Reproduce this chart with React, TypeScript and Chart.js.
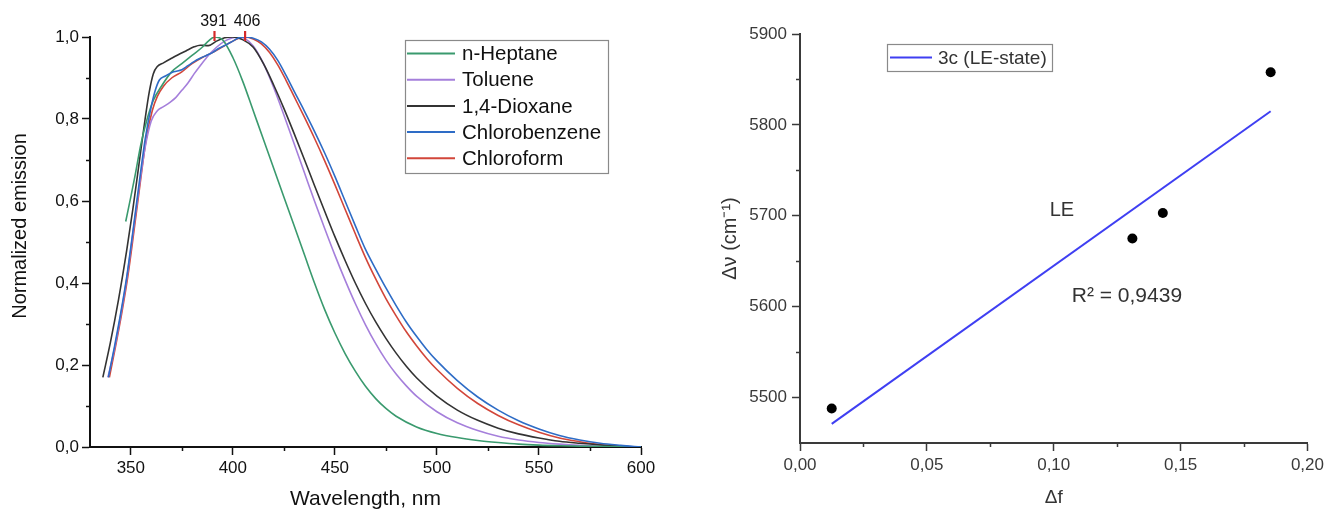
import React, { useEffect, useRef } from "react";
import { Chart, registerables } from "chart.js";

Chart.register(...registerables);

const FONT = "'Liberation Sans', Arial, sans-serif";

// ---------- Left chart: normalized emission spectra ----------
const waveTicks = [350, 400, 450, 500, 550, 600];
const waveMinor = [375, 425, 475, 525, 575];
const emissionTicks = [0, 0.2, 0.4, 0.6, 0.8, 1.0];
const emissionMinor = [0.1, 0.3, 0.5, 0.7, 0.9];

const heptaneNm = [347.5, 350, 352, 355, 358, 361, 365, 370, 375, 380, 385, 388, 391, 395, 400, 405, 410, 415, 420, 425, 430, 435, 440, 445, 450, 455, 460, 465, 470, 475, 480, 490, 500, 510, 520, 530, 540, 550, 560, 575, 600];
const heptaneInt = [0.55, 0.61, 0.66, 0.74, 0.8, 0.845, 0.88, 0.915, 0.935, 0.955, 0.975, 0.99, 1.0, 0.993, 0.95, 0.89, 0.82, 0.75, 0.68, 0.61, 0.54, 0.47, 0.4, 0.335, 0.278, 0.228, 0.185, 0.148, 0.118, 0.094, 0.075, 0.049, 0.033, 0.023, 0.016, 0.011, 0.007, 0.0045, 0.003, 0.0015, 0];

const tolueneNm = [338.8, 342, 345, 348, 351, 354, 357, 360, 363, 366, 369, 372, 375, 378, 381, 384, 388, 392, 396, 400, 403, 406, 410, 415, 420, 425, 430, 435, 440, 445, 450, 455, 460, 465, 470, 475, 480, 485, 490, 500, 510, 520, 530, 540, 550, 560, 570, 580, 590, 600];
const tolueneInt = [0.17, 0.24, 0.32, 0.41, 0.52, 0.63, 0.73, 0.795, 0.82, 0.83, 0.84, 0.852, 0.87, 0.888, 0.91, 0.93, 0.955, 0.975, 0.99, 0.998, 1.0, 0.996, 0.978, 0.935, 0.877, 0.81, 0.74, 0.67, 0.6, 0.533, 0.468, 0.407, 0.35, 0.298, 0.252, 0.212, 0.178, 0.149, 0.124, 0.086, 0.059, 0.04, 0.026, 0.017, 0.011, 0.007, 0.004, 0.002, 0.001, 0];

const dioxaneNm = [336.3, 340, 344, 348, 351, 354, 357, 359, 361, 363, 366, 370, 373, 377, 381, 384, 388, 392, 396, 400, 405, 410, 415, 420, 425, 430, 435, 440, 445, 450, 455, 460, 465, 470, 475, 480, 485, 490, 500, 510, 520, 530, 540, 550, 560, 570, 580, 590, 600];
const dioxaneInt = [0.17, 0.255, 0.36, 0.48, 0.58, 0.69, 0.8, 0.865, 0.91, 0.928, 0.937, 0.948, 0.956, 0.966, 0.976, 0.98, 0.979, 0.99, 0.998, 1.0, 0.993, 0.975, 0.935, 0.883, 0.826, 0.765, 0.702, 0.638, 0.575, 0.513, 0.455, 0.4, 0.35, 0.305, 0.265, 0.229, 0.197, 0.169, 0.124, 0.09, 0.065, 0.046, 0.032, 0.022, 0.014, 0.009, 0.005, 0.002, 0];

const chlorobenzeneNm = [339, 342, 345, 348, 351, 354, 357, 360, 362, 364, 367, 371, 375, 378, 381, 384, 387, 390, 393, 397, 400, 403, 406, 410, 414, 418, 422, 426, 430, 435, 440, 445, 450, 455, 460, 465, 470, 475, 480, 485, 490, 495, 500, 510, 520, 530, 540, 550, 560, 570, 580, 590, 600];
const chlorobenzeneInt = [0.17, 0.245, 0.325, 0.415, 0.525, 0.64, 0.75, 0.83, 0.87, 0.895, 0.905, 0.915, 0.92, 0.93, 0.94, 0.948, 0.955, 0.962, 0.972, 0.982, 0.99, 0.998, 1.0, 0.997, 0.988, 0.97, 0.943, 0.907, 0.868, 0.82, 0.77, 0.717, 0.66, 0.6, 0.54, 0.482, 0.434, 0.388, 0.345, 0.305, 0.27, 0.238, 0.21, 0.162, 0.122, 0.09, 0.064, 0.044, 0.028, 0.017, 0.009, 0.004, 0];

const chloroformNm = [339.5, 342.5, 345.5, 348.5, 351.5, 354.5, 357.5, 360.5, 363, 366, 370, 375, 380, 385, 390, 395, 400, 403, 406, 410, 414, 418, 422, 426, 430, 435, 440, 445, 450, 455, 460, 465, 470, 475, 480, 485, 490, 495, 500, 510, 520, 530, 540, 550, 560, 570, 580, 590, 600];
const chloroformInt = [0.17, 0.245, 0.325, 0.415, 0.525, 0.64, 0.75, 0.82, 0.855, 0.88, 0.9, 0.915, 0.935, 0.95, 0.962, 0.976, 0.99, 0.997, 1.0, 0.995, 0.983, 0.962, 0.932, 0.895, 0.855, 0.805, 0.753, 0.698, 0.64, 0.58, 0.52, 0.462, 0.41, 0.362, 0.32, 0.281, 0.247, 0.216, 0.189, 0.143, 0.106, 0.077, 0.054, 0.036, 0.022, 0.013, 0.006, 0.002, 0];

const solventLabels = ["n-Heptane", "Toluene", "1,4-Dioxane", "Chlorobenzene", "Chloroform"];
const peakNm = [391, 406];
const peakLabels = ["391", "406"];
const leftYTitle = "Normalized emission";

// ---------- Right chart: Lippert-Mataga ----------
const deltaF = [0.0125, 0.131, 0.143, 0.1855];
const deltaNu = [5488, 5675, 5703, 5858];
const fitDeltaF = [0.0125, 0.1855];
const fitDeltaNu = [5471, 5815];
const dfTicks = [0, 0.05, 0.1, 0.15, 0.2];
const dfMinor = [0.025, 0.075, 0.125, 0.175];
const nuTicks = [5500, 5600, 5700, 5800, 5900];
const nuMinor = [5550, 5650, 5750, 5850];
const fitLabel = "3c (LE-state)";
const leText = "LE";
const r2Text = "R\u00B2 = 0,9439";

const toPts = (xs: number[], ys: number[]) => xs.map((x, i) => ({ x, y: ys[i] }));

function minorTicks(xv: number[], yv: number[], color: string, len: number) {
  return {
    id: "minorTicks",
    afterDraw(chart: any) {
      const { ctx, scales } = chart;
      const xs = scales.x, ys = scales.y;
      ctx.save();
      ctx.strokeStyle = color;
      ctx.lineWidth = 1.5;
      xv.forEach((v) => {
        const px = Math.round(xs.getPixelForValue(v)) + 0.5;
        ctx.beginPath();
        ctx.moveTo(px, xs.top);
        ctx.lineTo(px, xs.top + len);
        ctx.stroke();
      });
      yv.forEach((v) => {
        const py = Math.round(ys.getPixelForValue(v)) + 0.5;
        ctx.beginPath();
        ctx.moveTo(ys.right, py);
        ctx.lineTo(ys.right - len, py);
        ctx.stroke();
      });
      ctx.restore();
    },
  };
}

function boxLegend(o: {
  box: [number, number, number, number];
  firstRow: number;
  rowStep: number;
  lineX0: number;
  lineX1: number;
  textX: number;
  fontSize: number;
  indices: number[];
  textColor: string;
}) {
  return {
    id: "boxLegend",
    afterDraw(chart: any) {
      const ctx = chart.ctx;
      ctx.save();
      const [bx, by, bw, bh] = o.box;
      ctx.strokeStyle = "#8a8a8a";
      ctx.lineWidth = 1.2;
      ctx.strokeRect(bx + 0.5, by + 0.5, bw, bh);
      ctx.font = `${o.fontSize}px ${FONT}`;
      ctx.textBaseline = "middle";
      ctx.textAlign = "left";
      o.indices.forEach((di, i) => {
        const ds = chart.data.datasets[di];
        const y = o.firstRow + i * o.rowStep;
        ctx.strokeStyle = ds.borderColor;
        ctx.lineWidth = 2;
        ctx.beginPath();
        ctx.moveTo(o.lineX0, y);
        ctx.lineTo(o.lineX1, y);
        ctx.stroke();
        ctx.fillStyle = o.textColor;
        ctx.fillText(ds.label, o.textX, y + 1);
      });
      ctx.restore();
    },
  };
}

const peakPlugin = {
  id: "peaks",
  afterDraw(chart: any) {
    const { ctx, chartArea, scales } = chart;
    ctx.save();
    ctx.font = `16px ${FONT}`;
    ctx.textAlign = "center";
    ctx.textBaseline = "middle";
    peakNm.forEach((nm, i) => {
      const px = scales.x.getPixelForValue(nm);
      ctx.fillStyle = "#111";
      ctx.fillText(peakLabels[i], px + (i === 1 ? 2 : -1), chartArea.top - 15);
      ctx.strokeStyle = "#d42a2a";
      ctx.lineWidth = 2.2;
      ctx.beginPath();
      ctx.moveTo(px, chartArea.top - 6);
      ctx.lineTo(px, chartArea.top + 4);
      ctx.stroke();
    });
    // y-axis title, rotated
    ctx.save();
    ctx.translate(20, (chartArea.top + chartArea.bottom) / 2 - 16);
    ctx.rotate(-Math.PI / 2);
    ctx.font = `20px ${FONT}`;
    ctx.fillStyle = "#111";
    ctx.fillText(leftYTitle, 0, 0);
    ctx.restore();
    ctx.restore();
  },
};

const rightTextPlugin = {
  id: "rightText",
  afterDraw(chart: any) {
    const { ctx, scales } = chart;
    ctx.save();
    ctx.font = `20px ${FONT}`;
    ctx.textAlign = "left";
    ctx.textBaseline = "middle";
    ctx.fillStyle = "#333";
    ctx.fillText(leText, scales.x.getPixelForValue(0.0984), scales.y.getPixelForValue(5706));
    ctx.font = `21px ${FONT}`;
    ctx.fillText(r2Text, scales.x.getPixelForValue(0.1071), scales.y.getPixelForValue(5611));
    ctx.restore();
  },
};

function axisCommon(color: string, size: number, pad: number) {
  return {
    grid: { drawOnChartArea: false, drawTicks: true, tickLength: 8, tickColor: color, tickWidth: 1.5 },
    border: { display: true, color, width: 2 },
    ticksBase: { color, font: { family: FONT, size }, padding: pad, maxRotation: 0, autoSkip: false },
  };
}

export default function App() {
  const leftRef = useRef<HTMLCanvasElement>(null);
  const rightRef = useRef<HTMLCanvasElement>(null);

  useEffect(() => {
    const lc = axisCommon("#111", 17, 3);
    const colors = ["#3a9a6e", "#a57fdb", "#333333", "#2e6cc6", "#d2463a"];
    const series = [
      toPts(heptaneNm, heptaneInt),
      toPts(tolueneNm, tolueneInt),
      toPts(dioxaneNm, dioxaneInt),
      toPts(chlorobenzeneNm, chlorobenzeneInt),
      toPts(chloroformNm, chloroformInt),
    ];
    const drawOrder = [1, 3, 2, 0, 4];
    const left = new Chart(leftRef.current!, {
      type: "line",
      data: {
        datasets: series.map((d, i) => ({
          label: solventLabels[i],
          data: d,
          borderColor: colors[i],
          backgroundColor: colors[i],
          borderWidth: 1.6,
          pointRadius: 0,
          tension: 0.4,
          cubicInterpolationMode: "monotone" as const,
          fill: false,
          order: drawOrder[i],
        })),
      },
      options: {
        responsive: false,
        animation: false,
        events: [],
        layout: { padding: { left: 0, right: 39, top: 37, bottom: 0 } },
        plugins: { legend: { display: false }, tooltip: { enabled: false } },
        scales: {
          x: {
            type: "linear",
            min: 330,
            max: 600,
            afterBuildTicks: (s: any) => {
              s.ticks = waveTicks.map((v) => ({ value: v }));
            },
            afterFit: (s: any) => {
              s.height = 62;
            },
            ticks: { ...lc.ticksBase, callback: (v: any) => String(v) },
            grid: lc.grid,
            border: lc.border,
            title: {
              display: true,
              text: "Wavelength, nm",
              color: "#111",
              font: { family: FONT, size: 21 },
              padding: { top: 0, bottom: -3 },
            },
          },
          y: {
            type: "linear",
            min: 0,
            max: 1,
            afterBuildTicks: (s: any) => {
              s.ticks = emissionTicks.map((v) => ({ value: v }));
            },
            afterFit: (s: any) => {
              s.width = 90;
            },
            ticks: { ...lc.ticksBase, callback: (v: any) => Number(v).toFixed(1).replace(".", ",") },
            grid: lc.grid,
            border: lc.border,
            title: { display: false },
          },
        },
      },
      plugins: [
        minorTicks(waveMinor, emissionMinor, "#111", 4),
        peakPlugin,
        boxLegend({
          box: [405, 40, 203, 133],
          firstRow: 53.5,
          rowStep: 26.2,
          lineX0: 407,
          lineX1: 455,
          textX: 462,
          fontSize: 20.5,
          indices: [0, 1, 2, 3, 4],
          textColor: "#111",
        }),
      ],
    } as any);

    const rc = axisCommon("#3a3a3a", 17, 5);
    const right = new Chart(rightRef.current!, {
      type: "scatter",
      data: {
        datasets: [
          {
            label: fitLabel,
            data: toPts(fitDeltaF, fitDeltaNu),
            showLine: true,
            borderColor: "#3f3ff2",
            backgroundColor: "#3f3ff2",
            borderWidth: 2,
            pointRadius: 0,
          },
          {
            label: "data",
            data: toPts(deltaF, deltaNu),
            showLine: false,
            borderColor: "#000",
            backgroundColor: "#000",
            pointRadius: 5,
            pointBorderWidth: 0,
          },
        ],
      },
      options: {
        responsive: false,
        animation: false,
        events: [],
        layout: { padding: { left: 0, right: 20, top: 34, bottom: 0 } },
        plugins: { legend: { display: false }, tooltip: { enabled: false } },
        scales: {
          x: {
            type: "linear",
            min: 0,
            max: 0.2,
            afterBuildTicks: (s: any) => {
              s.ticks = dfTicks.map((v) => ({ value: v }));
            },
            afterFit: (s: any) => {
              s.height = 66;
            },
            ticks: { ...rc.ticksBase, padding: 4, callback: (v: any) => Number(v).toFixed(2).replace(".", ",") },
            grid: rc.grid,
            border: rc.border,
            title: {
              display: true,
              text: "\u0394f",
              color: "#333",
              font: { family: FONT, size: 19 },
              padding: { top: 0, bottom: 0 },
            },
          },
          y: {
            type: "linear",
            min: 5450,
            max: 5900,
            afterBuildTicks: (s: any) => {
              s.ticks = nuTicks.map((v) => ({ value: v }));
            },
            afterFit: (s: any) => {
              s.width = 120;
            },
            ticks: { ...rc.ticksBase, callback: (v: any) => String(v) },
            grid: rc.grid,
            border: rc.border,
            title: {
              display: true,
              text: "\u0394\u03BD (cm\u207B\u00B9)",
              color: "#333",
              font: { family: FONT, size: 20 },
              padding: { top: 38, bottom: 0 },
            },
          },
        },
      },
      plugins: [
        minorTicks(dfMinor, nuMinor, "#3a3a3a", 4),
        rightTextPlugin,
        boxLegend({
          box: [207, 44, 165, 27],
          firstRow: 57.5,
          rowStep: 26,
          lineX0: 210,
          lineX1: 252,
          textX: 258,
          fontSize: 19,
          indices: [0],
          textColor: "#333",
        }),
      ],
    } as any);

    return () => {
      left.destroy();
      right.destroy();
    };
  }, []);

  return (
    <div style={{ position: "absolute", left: 0, top: 0, width: 1328, height: 509, background: "#fff", overflow: "hidden" }}>
      <canvas ref={leftRef} width={680} height={509} style={{ position: "absolute", left: 0, top: 0 }} />
      <canvas ref={rightRef} width={648} height={509} style={{ position: "absolute", left: 680, top: 0 }} />
    </div>
  );
}
